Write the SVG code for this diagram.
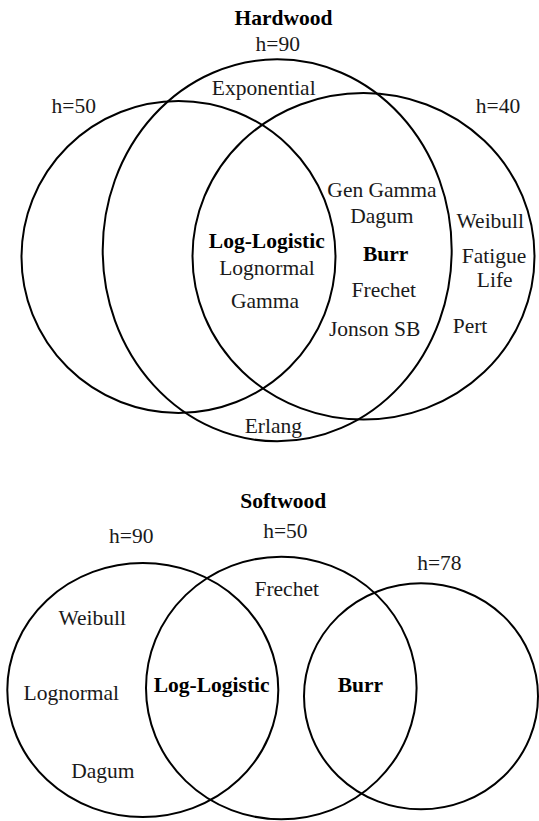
<svg xmlns="http://www.w3.org/2000/svg" width="539" height="821" viewBox="0 0 539 821">
<style>
.set{fill:none;stroke:#000;stroke-width:2}
.t{font-family:"Liberation Serif","DejaVu Serif","Noto Serif",Times,serif;font-size:21.5px;fill:#1a1a1a;text-anchor:middle}
.b{font-weight:bold;fill:#000}
</style>
<rect width="539" height="821" fill="#fff"/>
<g id="hardwood">
<text class="t b" x="283.5" y="24.5">Hardwood</text>
<g id="hw-h50">
<ellipse class="set" cx="178.5" cy="257" rx="157" ry="156"/>
<text class="t" x="73.7" y="113.3">h=50</text>
</g>
<g id="hw-h90">
<ellipse class="set" cx="277.2" cy="250.3" rx="174.5" ry="191"/>
<text class="t" x="277.8" y="51">h=90</text>
</g>
<g id="hw-h40">
<ellipse class="set" cx="363.5" cy="256.3" rx="171" ry="163.3"/>
<text class="t" x="498" y="113.3">h=40</text>
</g>
<g id="hw-labels">
<text class="t" x="263.7" y="95">Exponential</text>
<text class="t" x="382" y="197">Gen Gamma</text>
<text class="t" x="381.8" y="223.3">Dagum</text>
<text class="t b" x="385.7" y="260.7">Burr</text>
<text class="t" x="383.8" y="297.3">Frechet</text>
<text class="t" x="374.7" y="336">Jonson SB</text>
<text class="t" x="490.3" y="228.3">Weibull</text>
<text class="t" x="494" y="262.5">Fatigue</text>
<text class="t" x="494.7" y="286.7">Life</text>
<text class="t" x="470" y="333.3">Pert</text>
<text class="t b" x="266.8" y="248">Log-Logistic</text>
<text class="t" x="267" y="275">Lognormal</text>
<text class="t" x="265" y="308">Gamma</text>
<text class="t" x="273.3" y="433.3">Erlang</text>
</g>
</g>
<g id="softwood">
<text class="t b" x="283.2" y="507.7">Softwood</text>
<g id="sw-h90">
<ellipse class="set" cx="142.8" cy="690" rx="135.5" ry="127"/>
<text class="t" x="131.3" y="542.7">h=90</text>
</g>
<g id="sw-h50">
<ellipse class="set" cx="281.3" cy="688" rx="135.3" ry="131.3"/>
<text class="t" x="285.4" y="538.3">h=50</text>
</g>
<g id="sw-h78">
<ellipse class="set" cx="421" cy="696.3" rx="117" ry="113"/>
<text class="t" x="439.4" y="570">h=78</text>
</g>
<g id="sw-labels">
<text class="t" x="286.7" y="596.3">Frechet</text>
<text class="t" x="92.2" y="625">Weibull</text>
<text class="t" x="71.3" y="700">Lognormal</text>
<text class="t" x="102.8" y="778.3">Dagum</text>
<text class="t b" x="211.7" y="691.7">Log-Logistic</text>
<text class="t b" x="360.4" y="691.7">Burr</text>
</g>
</g>
<g id="connectors"/>
</svg>
